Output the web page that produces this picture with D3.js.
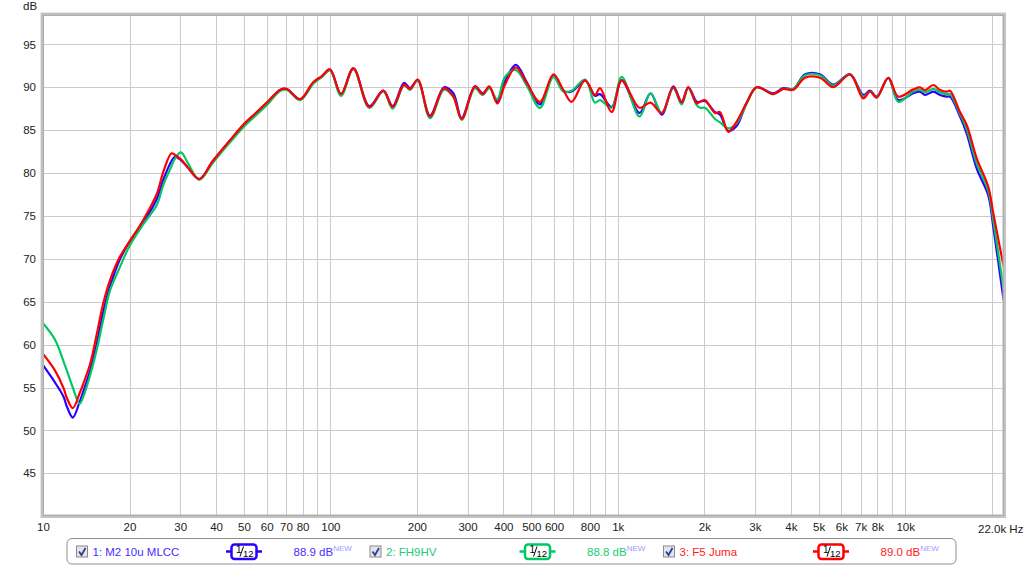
<!DOCTYPE html>
<html><head><meta charset="utf-8">
<script src="https://cdn.jsdelivr.net/npm/d3@7"></script>
<style>body{margin:0;background:#fff}svg{display:block;font-family:"Liberation Sans",Arial,sans-serif}</style>
</head><body><svg id="c" width="1024" height="566"></svg>
<script>
const freqs = [10, 11, 11.8, 12.1, 12.7, 13.4, 13.8, 14.6, 15.4, 16.2, 17.1, 18.5, 20, 22.3, 24.9, 26.2, 28, 28.8, 30.2, 32, 35, 39, 44.8, 50, 55, 60, 67, 70.5, 78.4, 87.2, 93.3, 99.7, 108.9, 120.2, 136.6, 152.8, 164.7, 180.4, 189.2, 201.3, 222.2, 248.5, 267.7, 286.2, 318.5, 338.8, 357.2, 380.8, 405, 442, 482, 536, 597, 646, 691, 769, 833, 867, 952, 1032, 1190, 1300, 1422, 1560, 1668, 1759, 1882, 1932, 2011, 2179, 2268, 2424, 2593, 2809, 3043, 3476, 3766, 4079, 4482, 5053, 5621, 6427, 7150, 7544, 7958, 8736, 9460, 10670, 11260, 11720, 12530, 13230, 13950, 14320, 15510, 16370, 17740, 19460, 20260, 22000];

const blueDb = [57.6, 55.6, 53.9, 52.8, 51.5, 53.3, 54.5, 57.0, 60.2, 63.8, 66.75, 69.9, 72.0, 74.2, 77.0, 79.2, 81.4, 81.9, 81.5, 80.6, 79.3, 81.4, 83.8, 85.6, 86.9, 88.1, 89.7, 89.8, 88.6, 90.5, 91.2, 92.0, 89.2, 92.2, 87.8, 89.6, 87.8, 90.5, 89.9, 90.8, 86.7, 90.0, 89.3, 86.4, 90.1, 89.3, 90.0, 88.3, 90.7, 92.6, 90.6, 88.0, 91.3, 89.6, 89.5, 90.8, 89.0, 89.2, 87.7, 90.8, 87.0, 89.3, 86.8, 90.1, 88.3, 90.0, 88.3, 88.3, 88.4, 87.1, 86.8, 84.9, 85.5, 88.2, 90.0, 89.3, 89.9, 89.8, 91.5, 91.5, 90.3, 91.5, 89.1, 89.6, 88.9, 91.1, 88.5, 89.3, 89.48, 89.1, 89.48, 89.1, 88.9, 88.9, 86.6, 84.6, 80.5, 77.4, 73.7, 65.2];

const greenDb = [62.5, 60.6, 58.0, 57.0, 55.0, 53.1, 53.9, 56.5, 59.5, 62.9, 66.3, 69.0, 71.5, 74.0, 76.3, 78.6, 80.8, 81.7, 82.4, 81.1, 79.2, 81.2, 83.6, 85.4, 86.7, 87.9, 89.6, 89.7, 88.5, 90.4, 91.2, 92.0, 89.0, 92.1, 87.6, 89.5, 87.5, 90.2, 89.7, 90.8, 86.4, 89.7, 88.9, 86.2, 89.9, 89.1, 89.9, 88.6, 91.2, 92.0, 90.2, 87.6, 91.2, 89.5, 89.6, 90.9, 88.2, 88.5, 87.6, 91.2, 86.6, 89.3, 87.0, 89.9, 88.0, 89.9, 87.9, 87.6, 87.6, 86.3, 85.9, 85.2, 85.8, 88.1, 90.0, 89.2, 89.8, 89.8, 91.4, 91.4, 90.2, 91.5, 88.9, 89.5, 88.8, 91.1, 88.3, 89.5, 89.7, 89.4, 89.8, 89.4, 89.2, 89.2, 86.9, 85.1, 81.1, 77.9, 74.5, 66.4];

const redDb = [58.9, 57.0, 54.9, 53.8, 52.6, 54.3, 55.4, 57.8, 61.3, 64.8, 67.5, 70.2, 72.0, 74.5, 77.6, 80.1, 82.3, 82.1, 81.6, 80.6, 79.3, 81.4, 83.85, 85.7, 87.0, 88.2, 89.7, 89.8, 88.6, 90.6, 91.3, 92.1, 89.2, 92.2, 87.7, 89.6, 87.7, 90.3, 89.8, 90.9, 86.6, 89.9, 88.9, 86.3, 90.1, 89.2, 90.1, 88.1, 90.3, 92.3, 90.5, 88.3, 91.5, 89.7, 88.3, 90.8, 89.1, 89.9, 87.1, 90.8, 87.6, 88.2, 87.0, 90.0, 88.2, 90.0, 88.1, 88.3, 88.5, 87.0, 87.1, 84.8, 86.0, 88.2, 90.0, 89.2, 89.8, 89.7, 91.1, 91.1, 90.0, 91.5, 88.7, 89.5, 88.8, 91.1, 88.9, 89.75, 89.98, 89.67, 90.26, 89.67, 89.48, 89.6, 87.1, 85.6, 81.7, 78.4, 75.3, 69.1];

const xTickValues = [10, 20, 30, 40, 50, 60, 70, 80, 100, 200, 300, 400, 500, 600, 800, 1000, 2000, 3000, 4000, 5000, 6000, 7000, 8000, 10000];
const xTickLabels = ["10", "20", "30", "40", "50", "60", "70", "80", "100", "200", "300", "400", "500", "600", "800", "1k", "2k", "3k", "4k", "5k", "6k", "7k", "8k", "10k"];
const endLabel = "22.0k Hz";
const gridFreqs = [20, 30, 40, 50, 60, 70, 80, 90, 100, 200, 300, 400, 500, 600, 700, 800, 900, 1000, 2000, 3000, 4000, 5000, 6000, 7000, 8000, 9000, 10000, 20000];
const yTicks = [45, 50, 55, 60, 65, 70, 75, 80, 85, 90, 95];
const yUnit = "dB";
const seriesNames = ["1: M2 10u MLCC", "2: FH9HV", "3: F5 Juma"];
const seriesLevels = ["88.9 dB", "88.8 dB", "89.0 dB"];
const seriesColors = ["#2a00ff", "#00c864", "#ff0000"];
const levelColors = ["#4a2cff", "#22cc77", "#ff1a1a"];

const svg = d3.select("#c");
const L = 43, R = 1003.6, T = 14.3, B = 516.2;
const x = d3.scaleLog().domain([10, 22000]).range([L, R]);
const y = d3.scaleLinear().domain([40, 98.5]).range([B, T]);

svg.append("rect").attr("width", 1024).attr("height", 566).attr("fill", "#fff");

// grid
const grid = svg.append("g").attr("stroke", "#cbcbcb").attr("stroke-width", 1).attr("shape-rendering", "crispEdges");
grid.selectAll("line.v").data(gridFreqs).join("line")
  .attr("x1", d => Math.round(x(d)) + 0.5).attr("x2", d => Math.round(x(d)) + 0.5)
  .attr("y1", T).attr("y2", B);
grid.selectAll("line.h").data(yTicks).join("line")
  .attr("x1", L).attr("x2", R)
  .attr("y1", d => Math.round(y(d)) + 0.5).attr("y2", d => Math.round(y(d)) + 0.5);

// clip
svg.append("clipPath").attr("id", "clip").append("rect")
  .attr("x", L).attr("y", T).attr("width", R - L).attr("height", B - T);

const line = d3.line().x(d => x(d[0])).y(d => y(d[1])).curve(d3.curveCatmullRom.alpha(0.5));
const series = [blueDb, greenDb, redDb];
const lg = svg.append("g").attr("clip-path", "url(#clip)");
series.forEach((vals, i) => {
  lg.append("path").attr("d", line(freqs.map((f, j) => [f, vals[j]])))
    .attr("fill", "none").attr("stroke", seriesColors[i]).attr("stroke-width", 2.2)
    .attr("stroke-linejoin", "round");
});

// frame
svg.append("rect").attr("x", 42.3).attr("y", 14.3).attr("width", 962).attr("height", 502)
  .attr("fill", "none").attr("stroke", "#c2c2c2").attr("stroke-width", 3.4);
svg.append("rect").attr("x", 43.3).attr("y", 15.3).attr("width", 960).attr("height", 500)
  .attr("fill", "none").attr("stroke", "#a9a9a9").attr("stroke-width", 1);

// axes
const yAxis = svg.append("g").attr("transform", `translate(${L - 1},0)`)
  .call(d3.axisLeft(y).tickValues(yTicks).tickSize(0).tickPadding(6));
yAxis.select(".domain").remove();
yAxis.selectAll("text").attr("font-size", 11.5).attr("fill", "#222").attr("font-family", "Liberation Sans, Arial, sans-serif");

const xAxis = svg.append("g").attr("transform", `translate(0,${B})`)
  .call(d3.axisBottom(x).tickValues(xTickValues).tickFormat((d, i) => xTickLabels[i]).tickSize(0).tickPadding(7));
xAxis.select(".domain").remove();
xAxis.selectAll("text").attr("font-size", 11.5).attr("fill", "#222").attr("font-family", "Liberation Sans, Arial, sans-serif");

svg.append("text").attr("x", 978).attr("y", 532.5).attr("font-size", 11.5).attr("fill", "#222").text(endLabel);
svg.append("text").attr("x", 23).attr("y", 9.5).attr("font-size", 11.5).attr("fill", "#222").text(yUnit);

// legend
svg.append("rect").attr("x", 67).attr("y", 538.5).attr("width", 889).attr("height", 25.5).attr("rx", 5)
  .attr("fill", "#fff").attr("stroke", "#8e8e8e").attr("stroke-width", 1);
const step = 293.5;
seriesNames.forEach((name, i) => {
  const bx = 76 + i * step;
  const cy = 551.5;
  const g = svg.append("g");
  g.append("rect").attr("x", bx + 0.5).attr("y", cy - 5.5).attr("width", 11).attr("height", 11)
    .attr("fill", "#e4e4ec").attr("stroke", "#8a8a8a");
  g.append("path").attr("d", `M${bx + 3},${cy} L${bx + 5.5},${cy + 3.5} L${bx + 9.5},${cy - 3.5}`)
    .attr("fill", "none").attr("stroke", "#2f3f8f").attr("stroke-width", 1.8);
  g.append("text").attr("x", bx + 16.5).attr("y", cy + 4).attr("font-size", 11.5)
    .attr("fill", levelColors[i]).text(name);
  // smoothing icon
  const ix = bx + 150;
  g.append("line").attr("x1", ix).attr("x2", ix + 36).attr("y1", cy).attr("y2", cy)
    .attr("stroke", seriesColors[i]).attr("stroke-width", 2.5);
  g.append("rect").attr("x", ix + 5.5).attr("y", cy - 7).attr("width", 25).attr("height", 14.5).attr("rx", 3)
    .attr("fill", "#fff").attr("stroke", seriesColors[i]).attr("stroke-width", 2.5);
  g.append("text").attr("x", ix + 10).attr("y", cy + 1.5).attr("font-size", 10).attr("fill", "#000").text("1");
  g.append("path").attr("d", `M${ix + 17.5},${cy - 5} L${ix + 14},${cy + 5}`).attr("stroke", "#000").attr("stroke-width", 1);
  g.append("text").attr("x", ix + 17).attr("y", cy + 5.5).attr("font-size", 9.5).attr("fill", "#000").text("12");
  // level
  const t = g.append("text").attr("x", bx + 217.5).attr("y", cy + 4).attr("font-size", 11.5).attr("fill", levelColors[i]);
  t.append("tspan").text(seriesLevels[i]);
  t.append("tspan").attr("dy", -5).attr("font-size", 8).attr("fill", "#9c9cff").text("NEW");
});
</script></body></html>
